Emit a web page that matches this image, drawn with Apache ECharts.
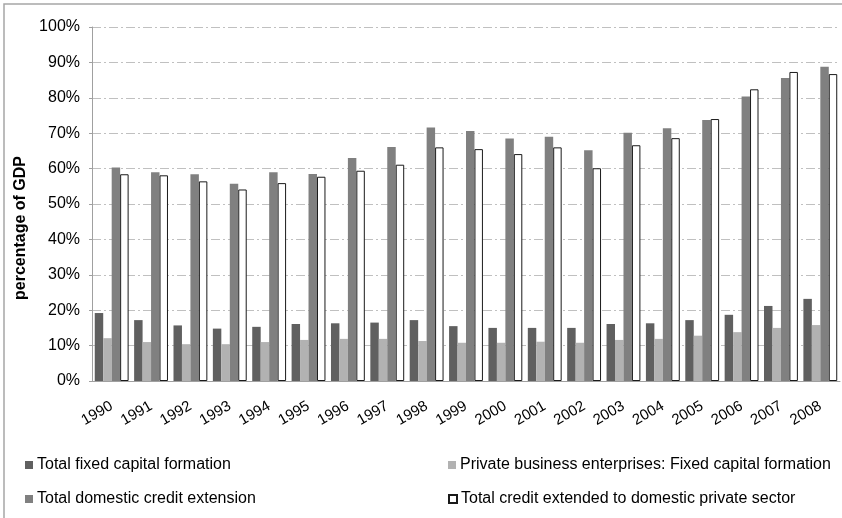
<!DOCTYPE html>
<html>
<head>
<meta charset="utf-8">
<script src="https://cdn.jsdelivr.net/npm/echarts@6/dist/echarts.min.js"></script>
<style>
  html, body { margin: 0; padding: 0; background: #fff; }
  #main { width: 842px; height: 518px; }
</style>
</head>
<body>
<div id="main"></div>
<script>
var years = ['1990', '1991', '1992', '1993', '1994', '1995', '1996', '1997', '1998', '1999',
    '2000', '2001', '2002', '2003', '2004', '2005', '2006', '2007', '2008'];
var totalFixedCapital = [19.2, 17.2, 15.7, 14.8, 15.3, 16.1, 16.3, 16.5, 17.2, 15.5,
    15.0, 15.0, 15.0, 16.1, 16.3, 17.2, 18.7, 21.2, 23.2];
var privateFixedCapital = [12.1, 11.0, 10.4, 10.4, 11.0, 11.6, 11.9, 11.9, 11.3, 10.8,
    10.8, 11.1, 10.8, 11.6, 11.9, 12.8, 13.8, 15.0, 15.8];
var domesticCredit = [60.3, 59.0, 58.4, 55.7, 59.0, 58.5, 63.0, 66.1, 71.6, 70.6,
    68.5, 69.0, 65.2, 70.1, 71.4, 73.7, 80.4, 85.6, 88.8];
var privateSectorCredit = [58.4, 58.1, 56.4, 54.1, 55.9, 57.7, 59.4, 61.1, 66.0, 65.5,
    64.1, 66.0, 60.1, 66.6, 68.6, 74.0, 82.4, 87.3, 86.7];
var seriesNames = [
    'Total fixed capital formation',
    'Private business enterprises: Fixed capital formation',
    'Total domestic credit extension',
    'Total credit extended to domestic private sector'
];

var chartDom = document.getElementById('main');
var myChart = echarts.init(chartDom);
var option;
var font = "'Liberation Sans', Arial, sans-serif";

function legendAt(name, left, top) {
    return {
        data: [{ name: name, icon: 'rect' }],
        left: left,
        top: top,
        padding: 0,
        itemWidth: 8,
        itemHeight: 8,
        selectedMode: false,
        textStyle: { fontFamily: font, fontSize: 16, color: '#000', padding: [0, 0, 0, -1] }
    };
}

function bar(name, data, color, border) {
    return {
        name: name,
        type: 'bar',
        data: data,
        barGap: '0%',
        barCategoryGap: '14%',
        animation: false,
        itemStyle: {
            color: color,
            borderColor: border || color,
            borderWidth: border ? 1 : 0
        }
    };
}

option = {
    backgroundColor: '#fff',
    textStyle: { fontFamily: font },
    graphic: [
        {
            type: 'rect',
            shape: { x: 4, y: 4, width: 900, height: 600 },
            style: { fill: 'none', stroke: '#a6a6a6', lineWidth: 1.5 },
            z: -1
        }
    ],
    legend: [
        legendAt(seriesNames[0], 25, 457),
        legendAt(seriesNames[1], 448, 457),
        legendAt(seriesNames[2], 25, 491),
        legendAt(seriesNames[3], 448, 491)
    ],
    grid: { left: 92, right: 2, top: 27, bottom: 137 },
    xAxis: {
        type: 'category',
        data: years,
        axisLine: { lineStyle: { color: '#a0a0a0', width: 1 } },
        axisTick: { length: 4, lineStyle: { color: '#a0a0a0' } },
        axisLabel: { rotate: 30, margin: 24, fontSize: 15, color: '#000', fontFamily: font }
    },
    yAxis: {
        type: 'value',
        min: 0,
        max: 100,
        interval: 10,
        name: 'percentage of GDP',
        nameLocation: 'middle',
        nameGap: 58,
        nameTextStyle: { fontSize: 16, fontWeight: 'bold', color: '#000', fontFamily: font, padding: [0, 48, 0, 0] },
        axisLine: { show: true, lineStyle: { color: '#a0a0a0', width: 1 } },
        axisTick: { show: true, length: 3, lineStyle: { color: '#a0a0a0' } },
        axisLabel: { formatter: '{value}%', fontSize: 16, color: '#000', margin: 12, fontFamily: font },
        splitLine: { lineStyle: { color: '#c0c0c0', width: 1, type: [9, 3, 2, 3] } }
    },
    series: [
        bar(seriesNames[0], totalFixedCapital, '#606060'),
        bar(seriesNames[1], privateFixedCapital, '#b2b2b2'),
        bar(seriesNames[2], domesticCredit, '#808080'),
        bar(seriesNames[3], privateSectorCredit, '#ffffff', '#1a1a1a')
    ]
};

option && myChart.setOption(option);
</script>
</body>
</html>
